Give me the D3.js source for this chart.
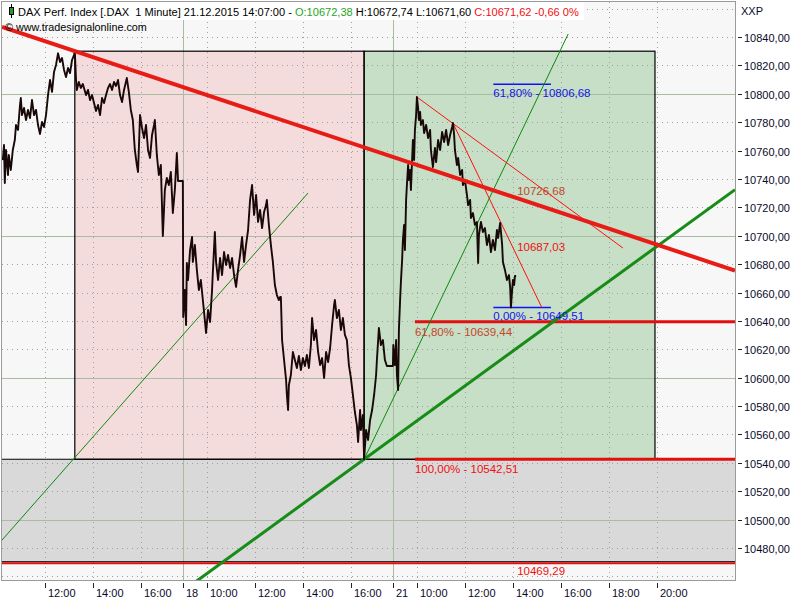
<!DOCTYPE html>
<html><head><meta charset="utf-8">
<script src="https://cdn.jsdelivr.net/npm/d3@7/dist/d3.min.js"></script>
<style>
body{margin:0;background:#fff}
svg{display:block}
text{font-family:"Liberation Sans",Arial,sans-serif;white-space:pre}
</style>
</head><body>
<svg id="c" width="800" height="600"></svg>
<script>
// ---------- data ----------
const days = ["17", "18", "21"];
const sessionOpen = "09:00";
const sessionMinutes = 525;
const viewStart = ["17", "10:12"];
const viewEnd = ["21", "23:14"];

const day17 = [["10:14",10753.3],["10:17",10763.9],["10:19",10737.1],["10:22",10760.4],["10:27",10742.8],["10:29",10756.9],["10:34",10746.3],["10:39",10760.4],["10:44",10767.4],["10:47",10778.0],["10:52",10774.5],["10:57",10792.1],["10:59",10797.0],["11:02",10785.0],["11:07",10790.0],["11:12",10781.5],["11:17",10788.6],["11:22",10782.9],["11:27",10795.6],["11:32",10785.0],["11:37",10788.6],["11:42",10778.0],["11:47",10771.7],["11:52",10780.1],["11:57",10776.6],["12:02",10785.0],["12:07",10799.1],["12:12",10809.7],["12:17",10801.3],["12:22",10815.3],["12:27",10820.3],["12:32",10828.5],["12:37",10822.4],["12:42",10825.2],["12:47",10816.8],["12:52",10811.8],["12:57",10818.2],["13:02",10814.6],["13:07",10823.8],["13:12",10827.3],["13:14",10830.0],["13:17",10809.7],["13:19",10802.7],["13:24",10808.3],["13:29",10804.1],["13:34",10806.9],["13:42",10799.1],["13:47",10802.7],["13:52",10795.6],["13:57",10799.1],["14:02",10793.5],["14:07",10787.9],["14:12",10792.1],["14:17",10785.0],["14:22",10797.0],["14:27",10793.5],["14:32",10799.1],["14:37",10804.1],["14:42",10806.9],["14:47",10802.7],["14:52",10808.3],["14:57",10805.5],["15:02",10809.7],["15:07",10799.1],["15:12",10794.2],["15:17",10802.7],["15:24",10811.1],["15:29",10801.3],["15:34",10788.6],["15:39",10781.5],["15:44",10760.4],["15:49",10749.8],["15:52",10744.9],["15:57",10785.0],["16:02",10775.9],["16:07",10768.8],["16:12",10778.0],["16:17",10760.4],["16:22",10754.8],["16:27",10771.0],["16:32",10778.0],["16:34",10781.5],["16:39",10756.9],["16:44",10742.8],["16:49",10749.8],["16:54",10699.8],["16:59",10732.2],["17:04",10740.7],["17:09",10735.7],["17:14",10744.9],["17:19",10716.0],["17:24",10732.2],["17:29",10758.3],["17:32",10738.5],["17:44",10738.5]];

const day18 = [["09:00",10642.7],["09:04",10661.8],["09:07",10637.1],["09:09",10680.8],["09:12",10668.8],["09:17",10689.9],["09:22",10699.1],["09:24",10681.5],["09:29",10693.5],["09:34",10675.9],["09:39",10661.8],["09:44",10668.8],["09:49",10654.7],["09:54",10640.6],["09:57",10631.5],["10:02",10647.7],["10:07",10639.2],["10:12",10661.8],["10:14",10674.4],["10:19",10702.6],["10:22",10681.5],["10:27",10668.8],["10:32",10684.3],["10:37",10672.3],["10:42",10688.5],["10:47",10679.4],["10:52",10686.4],["10:57",10677.3],["11:02",10684.3],["11:07",10672.3],["11:12",10663.9],["11:17",10675.9],["11:22",10686.4],["11:27",10699.1],["11:32",10681.5],["11:37",10693.5],["11:42",10704.0],["11:47",10725.2],["11:52",10735.7],["11:57",10714.6],["12:02",10728.7],["12:07",10709.7],["12:12",10718.1],["12:17",10705.4],["12:22",10716.7],["12:27",10721.6],["12:29",10725.2],["12:34",10707.6],["12:39",10693.5],["12:44",10681.5],["12:49",10665.3],["12:54",10658.2],["12:59",10654.7],["13:02",10656.8],["13:04",10656.8],["13:07",10626.5],["13:12",10612.4],["13:17",10598.4],["13:19",10587.8],["13:22",10577.2],["13:24",10594.8],["13:29",10601.9],["13:34",10618.1],["13:39",10612.4],["13:44",10606.8],["13:49",10615.3],["13:54",10605.4],["13:59",10613.8],["14:04",10608.2],["14:09",10616.0],["14:14",10606.8],["14:19",10623.0],["14:22",10642.0],["14:27",10626.5],["14:32",10633.6],["14:37",10618.1],["14:42",10608.9],["14:47",10613.8],["14:52",10599.8],["14:57",10618.1],["15:02",10611.0],["15:07",10620.9],["15:12",10637.1],["15:17",10651.2],["15:19",10654.7],["15:24",10642.0],["15:29",10647.7],["15:34",10633.6],["15:39",10642.0],["15:44",10630.1],["15:49",10626.5],["15:54",10608.9],["15:59",10599.8],["16:04",10587.8],["16:09",10575.8],["16:14",10566.6],["16:17",10554.7],["16:22",10577.2],["16:24",10563.1],["16:29",10573.7],["16:32",10542.5],["16:37",10563.1],["16:42",10556.1],["16:47",10570.2],["16:52",10577.2],["16:57",10587.8],["17:02",10601.9],["17:04",10612.4],["17:09",10635.0],["17:14",10623.0],["17:19",10626.5],["17:24",10612.4],["17:29",10608.2],["17:44",10608.2]];

const day21 = [["09:00",10623.0],["09:04",10608.9],["09:07",10626.5],["09:09",10601.9],["09:12",10591.3],["09:14",10633.6],["09:17",10654.7],["09:19",10667.4],["09:22",10682.9],["09:24",10697.0],["09:27",10707.6],["09:29",10689.9],["09:32",10725.2],["09:34",10735.7],["09:37",10749.8],["09:39",10739.3],["09:42",10746.3],["09:44",10732.2],["09:47",10753.3],["09:49",10767.4],["09:52",10753.3],["09:54",10774.5],["09:57",10785.0],["09:59",10797.7],["10:02",10790.0],["10:04",10781.5],["10:07",10787.2],["10:09",10778.0],["10:14",10781.5],["10:17",10772.4],["10:22",10778.0],["10:27",10768.8],["10:32",10774.5],["10:34",10760.4],["10:39",10748.4],["10:44",10761.8],["10:47",10751.9],["10:52",10767.4],["10:57",10760.4],["11:02",10773.1],["11:07",10766.0],["11:12",10774.5],["11:17",10763.9],["11:22",10771.0],["11:27",10776.6],["11:29",10779.4],["11:32",10771.0],["11:34",10760.4],["11:39",10749.8],["11:42",10754.8],["11:47",10742.8],["11:52",10746.3],["11:54",10735.7],["11:59",10739.3],["12:04",10728.7],["12:07",10721.6],["12:12",10725.2],["12:14",10712.5],["12:19",10716.0],["12:24",10707.6],["12:29",10709.7],["12:32",10680.8],["12:34",10700.5],["12:39",10709.7],["12:44",10702.6],["12:49",10705.4],["12:54",10693.5],["12:59",10700.5],["13:04",10688.5],["13:09",10697.0],["13:14",10689.9],["13:19",10704.0],["13:22",10698.4],["13:27",10709.0],["13:32",10693.5],["13:34",10681.5],["13:39",10675.9],["13:44",10668.8],["13:49",10672.3],["13:52",10663.9],["13:54",10649.5],["13:57",10661.8],["13:59",10668.8],["14:02",10665.3],["14:04",10671.6],["14:07",10671.6]];

const yTickValues = [10480,10500,10520,10540,10560,10580,10600,10620,10640,10660,10680,10700,10720,10740,10760,10780,10800,10820,10840];
const yGridValues = [10460,10480,10500,10520,10540,10560,10580,10600,10620,10640,10660,10680,10700,10720,10740,10760,10780,10800,10820,10840,10860];
const xTicks = [["17","12:00","12:00"],["17","14:00","14:00"],["17","16:00","16:00"],["18","09:00","18"],["18","10:00","10:00"],["18","12:00","12:00"],["18","14:00","14:00"],["18","16:00","16:00"],["21","09:00","21"],["21","10:00","10:00"],["21","12:00","12:00"],["21","14:00","14:00"],["21","16:00","16:00"],["21","18:00","18:00"],["21","20:00","20:00"]];

const boxHigh = 10830.0, boxLow = 10542.51;
const boxStart = ["17","13:14"], boxMid = ["18","16:32"], boxEnd = ["21","19:54"];
const grayZone = [10542.51, 10469.29];

// red retracement levels: [label, value, start]
const redLevels = [["61,80% - 10639,44",10639.44,["21","09:54"]],["100,00% - 10542,51",10542.51,["21","09:54"]]];
const bottomLevel = ["10469,29",10469.29];
// blue retracement levels
const blueLevels = [["61,80% - 10806,68",10806.68],["0,00% - 10649,51",10649.51]];
const blueSpan = [["21","13:10"],["21","15:34"]];

// trend lines: [day, time, value]
const thickRed = [["17","13:14",10830.0],["21","14:07",10726.68]];
const thickGreen = [["18","16:32",10542.51],["21","19:54",10691.5]];
const thinGreenA = [["17","10:12",10485.6],["18","14:12",10730.1]];
const thinGreenB = [["18","16:32",10542.51],["21","16:17",10842.1]];
const thinRedA = [["21","09:59",10797.7],["21","18:34",10691.3]];
const thinRedB = [["21","11:29",10779.4],["21","15:11",10649.51]];
const lastBar = ["21","14:07"];
const lineValueLabels = [["10726,68",10726.68,"#c4462c"],["10687,03",10687.03,"#ee1111"]];

const headerParts = [["DAX Perf. Index [.DAX  1 Minute] 21.12.2015 14:07:00 - ","#000"],["O:10672,38","#1ea51e"],[" H:10672,74 L:10671,60 ","#000"],["C:10671,62 -0,66 0%","#f01010"]];

// ---------- helpers ----------
function toIndex(day, hhmm) {
  const [h, m] = hhmm.split(":").map(Number);
  const [oh, om] = sessionOpen.split(":").map(Number);
  return days.indexOf(day) * sessionMinutes + (h * 60 + m) - (oh * 60 + om);
}
const fmt = v => v.toFixed(2).replace(".", ",");

const W = 800, H = 600;
const plot = {left: 2, top: 2, right: 735, bottom: 580};
const x = d3.scaleLinear().domain([toIndex(...viewStart), toIndex(...viewEnd)]).range([plot.left, plot.right]);
const y = d3.scaleLinear().domain([10480, 10840]).range([548, 37]);

const svg = d3.select("#c");
svg.append("rect").attr("width", W).attr("height", H).attr("fill", "#fff");
svg.append("defs").append("clipPath").attr("id", "clip").append("rect")
  .attr("x", plot.left).attr("y", plot.top).attr("width", plot.right - plot.left).attr("height", plot.bottom - plot.top);
const g = svg.append("g").attr("clip-path", "url(#clip)");

g.append("rect").attr("x", plot.left).attr("y", plot.top).attr("width", plot.right - plot.left)
  .attr("height", plot.bottom - plot.top).attr("fill", "#f7f7f7");

const xi = p => x(toIndex(p[0], p[1]));

// zones
g.append("rect").attr("x", xi(boxStart)).attr("y", y(boxHigh)).attr("width", xi(boxMid) - xi(boxStart))
  .attr("height", y(boxLow) - y(boxHigh)).attr("fill", "#f5dcdc");
g.append("rect").attr("x", xi(boxMid)).attr("y", y(boxHigh)).attr("width", xi(boxEnd) - xi(boxMid))
  .attr("height", y(boxLow) - y(boxHigh)).attr("fill", "#c6dfc6");
g.append("rect").attr("x", plot.left).attr("y", y(grayZone[0])).attr("width", plot.right - plot.left)
  .attr("height", y(grayZone[1]) - y(grayZone[0])).attr("fill", "#d9d9d9");

// grid
yGridValues.forEach(v => {
  const solid = v % 100 === 0;
  g.append("line").attr("x1", plot.left).attr("x2", plot.right).attr("y1", Math.round(y(v)) + 0.5).attr("y2", Math.round(y(v)) + 0.5)
    .attr("stroke", solid ? "#a9bba3" : "#a0a0a0").attr("stroke-width", 1)
    .attr("stroke-dasharray", solid ? null : "1,4");
});
xTicks.forEach(t => {
  const solid = t[1] === sessionOpen;
  const px = Math.round(xi(t)) + 0.5;
  g.append("line").attr("x1", px).attr("x2", px).attr("y1", plot.top).attr("y2", plot.bottom)
    .attr("stroke", solid ? "#a9bba3" : "#a0a0a0").attr("stroke-width", 1)
    .attr("stroke-dasharray", solid ? null : "1,4");
});

// zone borders
g.append("rect").attr("x", xi(boxStart)).attr("y", y(boxHigh)).attr("width", xi(boxMid) - xi(boxStart))
  .attr("height", y(boxLow) - y(boxHigh)).attr("fill", "none").attr("stroke", "#000").attr("stroke-width", 1.2);
g.append("rect").attr("x", xi(boxMid)).attr("y", y(boxHigh)).attr("width", xi(boxEnd) - xi(boxMid))
  .attr("height", y(boxLow) - y(boxHigh)).attr("fill", "none").attr("stroke", "#000").attr("stroke-width", 1.2);
g.append("line").attr("x1", plot.left).attr("x2", plot.right).attr("y1", y(grayZone[0])).attr("y2", y(grayZone[0]))
  .attr("stroke", "#000").attr("stroke-width", 1.2);
g.append("line").attr("x1", plot.left).attr("x2", plot.right).attr("y1", y(grayZone[1]) - 1.5).attr("y2", y(grayZone[1]) - 1.5)
  .attr("stroke", "#000").attr("stroke-width", 1);

// red levels
redLevels.forEach(l => {
  g.append("line").attr("x1", xi(l[2])).attr("x2", plot.right).attr("y1", y(l[1])).attr("y2", y(l[1]))
    .attr("stroke", "#e30f0f").attr("stroke-width", 3);
});
g.append("line").attr("x1", plot.left).attr("x2", plot.right).attr("y1", y(bottomLevel[1])).attr("y2", y(bottomLevel[1]))
  .attr("stroke", "#e30f0f").attr("stroke-width", 2);

// blue levels
blueLevels.forEach(l => {
  g.append("line").attr("x1", xi(blueSpan[0])).attr("x2", xi(blueSpan[1])).attr("y1", y(l[1])).attr("y2", y(l[1]))
    .attr("stroke", "#1010ff").attr("stroke-width", 1.5);
});

// trend lines
function segment(pts, extend) {
  const a = toIndex(pts[0][0], pts[0][1]), b = toIndex(pts[1][0], pts[1][1]);
  const slope = (pts[1][2] - pts[0][2]) / (b - a);
  const i0 = extend ? x.domain()[0] : a, i1 = extend ? x.domain()[1] : b;
  return [[i0, pts[0][2] + slope * (i0 - a)], [i1, pts[0][2] + slope * (i1 - a)]];
}
const lineGen = d3.line().x(d => x(d[0])).y(d => y(d[1]));
function drawTrend(pts, extend, color, width) {
  g.append("path").attr("d", lineGen(segment(pts, extend))).attr("fill", "none")
    .attr("stroke", color).attr("stroke-width", width);
}
drawTrend(thinGreenA, false, "#0d8a0d", 1);
drawTrend(thinGreenB, false, "#0d8a0d", 1);
drawTrend(thinRedA, false, "#ff1010", 1);
drawTrend(thinRedB, false, "#ff1010", 1);
drawTrend(thickGreen, true, "#178c17", 3);

// price
const series = [];
[[days[0], day17], [days[1], day18], [days[2], day21]].forEach(([d, arr]) => arr.forEach(p => series.push([toIndex(d, p[0]), p[1]])));
g.append("path").attr("d", lineGen(series)).attr("fill", "none").attr("stroke", "#180808")
  .attr("stroke-width", 1.9).attr("stroke-linejoin", "round");

drawTrend(thickRed, true, "#e81c16", 4);

// labels inside plot
const lf = 11.5;
redLevels.forEach((l, i) => {
  g.append("text").attr("x", xi(l[2])).attr("y", y(l[1]) + 14).attr("font-size", lf)
    .attr("fill", i === 0 ? "#c4462c" : "#f01010").text(l[0]);
});
g.append("text").attr("x", xi(lastBar) + 1).attr("y", y(bottomLevel[1]) + 12).attr("font-size", lf)
  .attr("fill", "#f01010").text(bottomLevel[0]);
blueLevels.forEach(l => {
  g.append("text").attr("x", xi(blueSpan[0])).attr("y", y(l[1]) + 13).attr("font-size", lf)
    .attr("fill", "#1414e6").text(l[0]);
});
lineValueLabels.forEach(l => {
  g.append("text").attr("x", xi(lastBar) + 1).attr("y", y(l[1]) - 3).attr("font-size", lf)
    .attr("fill", l[2]).text(l[0]);
});

// plot border
svg.append("rect").attr("x", plot.left - 0.5).attr("y", plot.top - 0.5).attr("width", plot.right - plot.left + 1)
  .attr("height", plot.bottom - plot.top + 1).attr("fill", "none").attr("stroke", "#9a9a9a");

// y axis
yTickValues.forEach(v => {
  const py = Math.round(y(v)) + 0.5;
  svg.append("line").attr("x1", plot.right + 3).attr("x2", plot.right + 7).attr("y1", py).attr("y2", py).attr("stroke", "#222");
  svg.append("text").attr("x", plot.right + 9).attr("y", py + 4).attr("font-size", 11).attr("fill", "#0a0a28").text(fmt(v));
});
svg.append("text").attr("x", plot.right + 6).attr("y", 15).attr("font-size", 11).attr("fill", "#0a0a28").text("XXP");

// x axis
xTicks.forEach(t => {
  const px = Math.round(xi(t)) + 0.5;
  svg.append("line").attr("x1", px).attr("x2", px).attr("y1", plot.bottom + 3).attr("y2", plot.bottom + 8).attr("stroke", "#222");
  svg.append("text").attr("x", px + 2.5).attr("y", plot.bottom + 17).attr("font-size", 11).attr("fill", "#0a0a28").text(t[2]);
});

// header
svg.append("rect").attr("x", plot.left).attr("y", plot.top).attr("width", 582).attr("height", 18).attr("fill", "#fff");
svg.append("line").attr("x1", 11.5).attr("x2", 11.5).attr("y1", 4).attr("y2", 18).attr("stroke", "#000");
svg.append("rect").attr("x", 9.5).attr("y", 7.5).attr("width", 4).attr("height", 7).attr("fill", "#2a9a2a").attr("stroke", "#000");
const ht = svg.append("text").attr("x", 18).attr("y", 16).attr("font-size", 11.05);
headerParts.forEach(p => ht.append("tspan").attr("fill", p[1]).text(p[0]));
svg.append("text").attr("x", 5).attr("y", 31).attr("font-size", 10.8).attr("fill", "#000").text("© www.tradesignalonline.com");
</script>
</body></html>
